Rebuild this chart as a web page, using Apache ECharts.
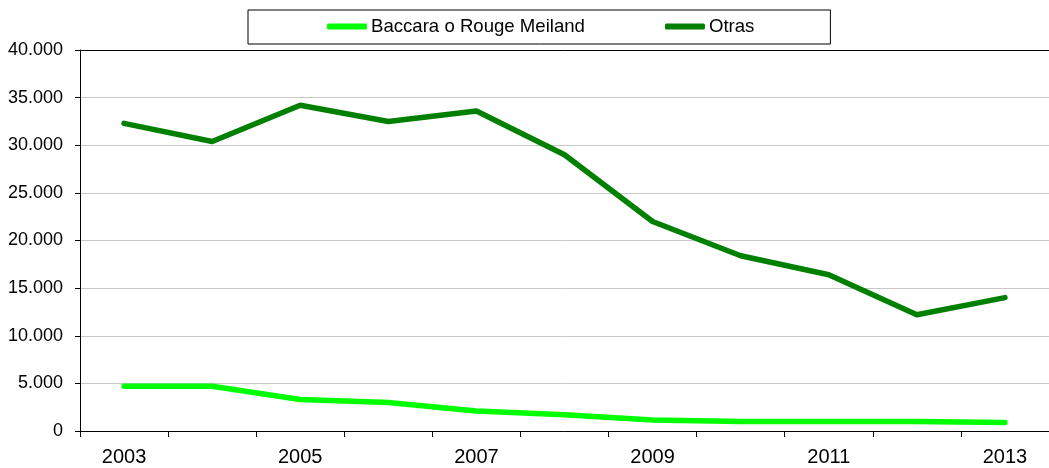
<!DOCTYPE html>
<html>
<head>
<meta charset="utf-8">
<script src="https://cdn.jsdelivr.net/npm/echarts@6/dist/echarts.min.js"></script>
<style>
html,body{margin:0;padding:0;background:#fff;}
#chart{width:1049px;height:468px;}
</style>
</head>
<body>
<div id="chart"></div>
<script>
const years = ['2003','2004','2005','2006','2007','2008','2009','2010','2011','2012','2013'];
const baccara = [4700, 4700, 3300, 3000, 2100, 1700, 1150, 1000, 1000, 1000, 900];
const otras = [32300, 30400, 34200, 32500, 33600, 29000, 22000, 18400, 16400, 12200, 14000];
const seriesNames = ['Baccara o Rouge Meiland', 'Otras'];

const chart = echarts.init(document.getElementById('chart'), null, {renderer: 'canvas'});
const font = 'Liberation Sans, Arial, sans-serif';
chart.setOption({
  animation: false,
  backgroundColor: '#fff',
  textStyle: {fontFamily: font},
  legend: {
    left: 248, top: 10,
    padding: [7, 76, 8, 79],
    borderColor: '#000', borderWidth: 1,
    itemWidth: 40, itemHeight: 6, itemGap: 80,
    icon: 'roundRect',
    textStyle: {fontFamily: font, fontSize: 18.6, color: '#000', padding: [0,0,0,-1]},
    data: seriesNames
  },
  grid: {left: 80, top: 50, right: -7, bottom: 37, containLabel: false},
  xAxis: [{
    type: 'category',
    data: years,
    boundaryGap: true,
    axisLine: {show: true, lineStyle: {color: '#000', width: 1}},
    axisTick: {show: true, interval: 0, length: 6, lineStyle: {color: '#000'}},
    axisLabel: {interval: 1, margin: 16, fontSize: 20, color: '#000', fontFamily: font},
    splitLine: {show: false}
  }, {
    type: 'category',
    position: 'top',
    data: years,
    axisLine: {show: true, lineStyle: {color: '#000', width: 1}},
    axisTick: {show: false},
    axisLabel: {show: false},
    splitLine: {show: false}
  }],
  yAxis: {
    type: 'value',
    min: 0, max: 40000, interval: 5000,
    axisLine: {show: true, lineStyle: {color: '#000', width: 1}},
    axisTick: {show: true, length: 5, lineStyle: {color: '#000'}},
    axisLabel: {
      margin: 17, fontSize: 18, color: '#000', fontFamily: font,
      formatter: v => v === 0 ? '0' : (v / 1000).toFixed(3)
    },
    splitLine: {show: true, lineStyle: {color: '#c8c8c8', width: 1}}
  },
  series: [{
    name: seriesNames[0],
    type: 'line',
    data: baccara,
    symbol: 'none',
    color: '#00ff00',
    lineStyle: {width: 5.5, color: '#00ff00', cap: 'round', join: 'round'}
  }, {
    name: seriesNames[1],
    type: 'line',
    data: otras,
    symbol: 'none',
    color: '#008000',
    lineStyle: {width: 5.5, color: '#008000', cap: 'round', join: 'round'}
  }]
});
</script>
</body>
</html>
